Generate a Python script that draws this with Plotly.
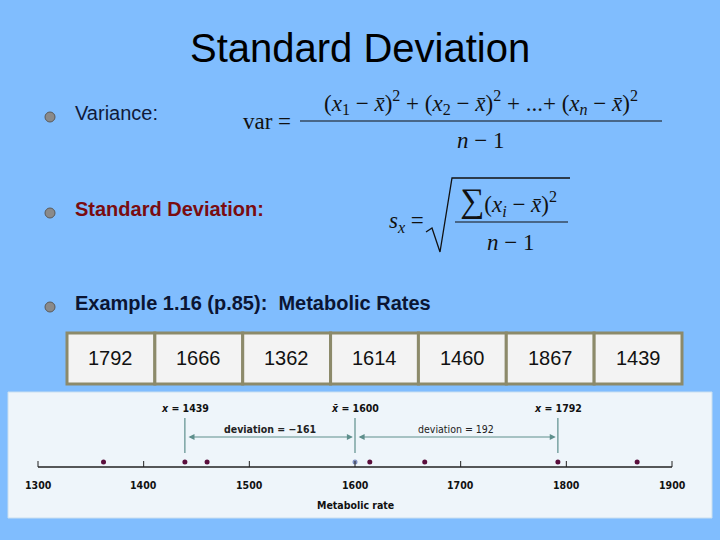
import plotly.graph_objects as go

# data
rates = [1792, 1666, 1362, 1614, 1460, 1867, 1439]
mean_rate = 1600
marked = [1439, 1600, 1792]
mark_labels = ["<i>x</i> = 1439", "<i>x̄</i> = 1600", "<i>x</i> = 1792"]
dev_labels = ["<b>deviation = −161</b>", "deviation = 192"]
ticks = [1300, 1400, 1500, 1600, 1700, 1800, 1900]

W, H = 720, 540
BG = "#80bdfe"
TEAL = "#5e8f8c"


def px(x):
    return x / W


def py(y):
    return 1 - y / H


fig = go.Figure()

# panel axis: x in data units, y in (540 - pixel)
fig.add_trace(go.Scatter(
    x=rates, y=[540 - 462] * len(rates), mode="markers",
    marker=dict(color="#5a0e3c", size=5), hoverinfo="skip"))
fig.add_trace(go.Scatter(
    x=[mean_rate], y=[540 - 462], mode="markers",
    marker=dict(color="#7f8fbf", size=5), hoverinfo="skip"))

shapes = []
ann = []


def text(x, y, s, font, xanchor="center", ref="paper"):
    ann.append(dict(x=x, y=y, xref="x" if ref == "x" else "paper", yref="y" if ref == "x" else "paper",
                    text=s, showarrow=False, xanchor=xanchor, yanchor="middle", font=font))


SMALL = dict(family="DejaVu Sans Condensed", size=10.5, color="#111")

# panel background
shapes.append(dict(type="rect", xref="paper", yref="paper", x0=px(8), x1=px(712),
                   y0=py(518), y1=py(392), fillcolor="#eef5fa",
                   line=dict(color="#c9dff0", width=1), layer="below"))
# number line
shapes.append(dict(type="line", xref="x", yref="y", x0=1300, x1=1900,
                   y0=540 - 467, y1=540 - 467, line=dict(color="#222", width=1.5)))
for t in ticks:
    shapes.append(dict(type="line", xref="x", yref="y", x0=t, x1=t,
                       y0=540 - 467, y1=540 - 461, line=dict(color="#222", width=1)))
    text(t, 540 - 485, f"<b>{t}</b>", SMALL, ref="x")
text(1600, 540 - 505, "<b>Metabolic rate</b>", SMALL, ref="x")

for m, lab in zip(marked, mark_labels):
    shapes.append(dict(type="line", xref="x", yref="y", x0=m, x1=m,
                       y0=540 - 453, y1=540 - 418, line=dict(color=TEAL, width=1.2)))
    text(m, 540 - 408, f"<b>{lab}</b>", SMALL, ref="x")
for (a, b), lab in zip([(marked[0], marked[1]), (marked[1], marked[2])], dev_labels):
    ann.append(dict(x=b - 2, y=540 - 437, ax=a + 2, ay=540 - 437, xref="x", yref="y",
                    axref="x", ayref="y", text="", showarrow=True, arrowhead=2,
                    arrowside="end+start", arrowsize=1, arrowwidth=1.2, arrowcolor=TEAL))
    text((a + b) / 2, 540 - 429, lab, dict(SMALL, color="#222"), ref="x")

# table of values
cw = (682 - 67) / len(rates)
for i, r in enumerate(rates):
    x0 = 67 + i * cw
    shapes.append(dict(type="rect", xref="paper", yref="paper", x0=px(x0), x1=px(x0 + cw),
                       y0=py(384), y1=py(333), fillcolor="#f3f3f3",
                       line=dict(color="#8c8a6a", width=3)))
    text(px(x0 + cw / 2), py(358), str(r), dict(family="Liberation Sans", size=20, color="#111"))

# title and bullets
text(0.5, py(48), "Standard Deviation", dict(family="Liberation Sans", size=40, color="#000"))
for yb, txt, col in [(113, "Variance:", "#101a3a"),
                     (209, "<b>Standard Deviation:</b>", "#7a0c10"),
                     (303, "<b>Example 1.16 (p.85):  Metabolic Rates</b>", "#0b1533")]:
    shapes.append(dict(type="circle", xref="paper", yref="paper", x0=px(45), x1=px(55),
                       y0=py(yb + 9), y1=py(yb - 1), fillcolor="#8a8a8a",
                       line=dict(color="#5a5a5a", width=1)))
    text(px(73), py(yb), txt, dict(family="Liberation Sans", size=20, color=col), xanchor="left")

SERIF = dict(family="Liberation Serif", size=23, color="#111")
# variance formula
text(px(293), py(122), "var =", SERIF, xanchor="right")
text(px(481), py(102),
     "(<i>x</i><sub>1</sub> − <i>x̄</i>)<sup>2</sup> + (<i>x</i><sub>2</sub> − <i>x̄</i>)<sup>2</sup>"
     " + ...+ (<i>x<sub>n</sub></i> − <i>x̄</i>)<sup>2</sup>", SERIF)
shapes.append(dict(type="line", xref="paper", yref="paper", x0=px(300), x1=px(662),
                   y0=py(121), y1=py(121), line=dict(color="#111", width=1.2)))
text(px(480), py(140), "<i>n</i> − 1", SERIF)
# std formula
text(px(426), py(222), "<i>s<sub>x</sub></i> =", SERIF, xanchor="right")
shapes.append(dict(type="path", xref="paper", yref="paper",
                   path=f"M {px(426)},{py(232)} L {px(432)},{py(228)} L {px(440)},{py(252)} "
                        f"L {px(452)},{py(178)} L {px(570)},{py(178)}",
                   line=dict(color="#111", width=1.3)))
text(px(508), py(201), "<span style='font-size:34px'>∑</span>(<i>x<sub>i</sub></i> − <i>x̄</i>)<sup>2</sup>", SERIF)
shapes.append(dict(type="line", xref="paper", yref="paper", x0=px(455), x1=px(568),
                   y0=py(222), y1=py(222), line=dict(color="#111", width=1.2)))
text(px(510), py(242), "<i>n</i> − 1", SERIF)

x_lo = 1300 - 30 / (634 / 600)
x_hi = 1900 + 40 / (634 / 600)
fig.update_layout(
    width=W, height=H, margin=dict(l=0, r=0, t=0, b=0),
    paper_bgcolor=BG, plot_bgcolor="rgba(0,0,0,0)", showlegend=False,
    xaxis=dict(domain=[px(8), px(712)], range=[x_lo, x_hi], visible=False, fixedrange=True),
    yaxis=dict(domain=[py(518), py(392)], range=[540 - 518, 540 - 392], visible=False, fixedrange=True),
    shapes=shapes, annotations=ann,
)

fig.write_html("out.html", config={"displayModeBar": False},
               post_script="document.body.style.margin='0';")
